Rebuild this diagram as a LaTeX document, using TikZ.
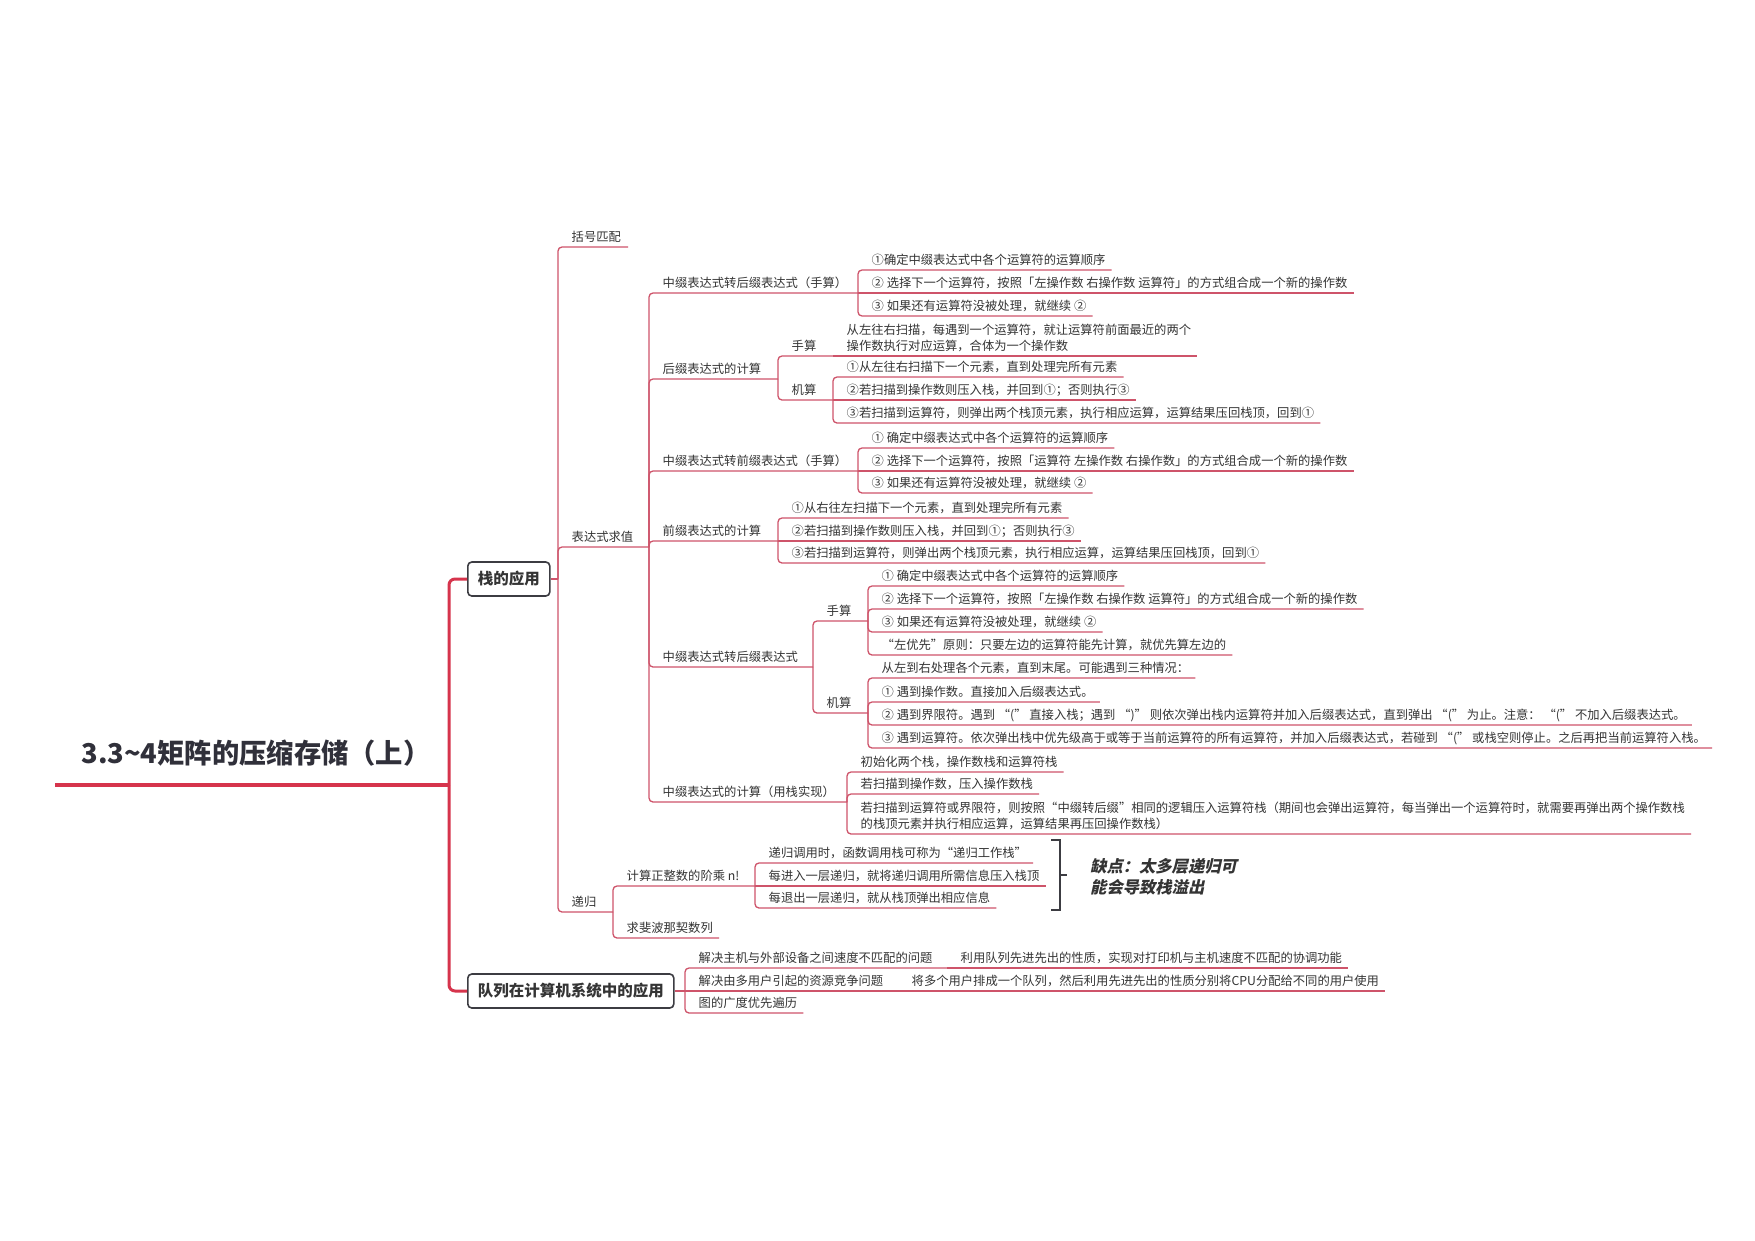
\documentclass[tikz,border=0pt]{standalone}
\usepackage{fontspec}
\setmainfont{Noto Sans CJK SC}
\newfontfamily\sumfont{Noto Sans CJK SC}[BoldFeatures={FakeSlant=0.22}]
\definecolor{mainred}{RGB}{214,52,76}
\definecolor{brc}{RGB}{206,84,106}
\definecolor{txt}{RGB}{52,52,52}
\definecolor{titc}{RGB}{48,48,58}
\definecolor{boxc}{RGB}{60,60,66}
\newcommand\myfs{\fontsize{12.3pt}{16pt}\selectfont}
\newcommand\myfsb{\fontsize{15.5pt}{18pt}\selectfont\bfseries}
\newcommand\myfst{\fontsize{27.3pt}{30pt}\selectfont\bfseries}
\newcommand\myfss{\fontsize{16.3pt}{21pt}\selectfont\sumfont\bfseries}
\begin{document}
\begin{tikzpicture}[x=1pt,y=-1pt,
  tp/.style={anchor=base west, inner sep=0pt, text=txt, font=\myfs},
  tpm/.style={anchor=south west, inner sep=0pt, text=txt, font=\myfs, align=left},
  ln/.style={draw=brc, line width=1.3pt, rounded corners=4pt},
  mainln/.style={draw=mainred, line width=3pt, rounded corners=6pt},
  box/.style={draw=boxc, line width=1.6pt, rounded corners=4pt, fill=white, inner xsep=10pt, inner ysep=0pt, minimum height=34pt, text=txt, font=\myfsb, anchor=west},
  brk/.style={draw=boxc, line width=2.4pt}
]
\useasboundingbox (0,0) rectangle (1755,1240);
\fill[white] (0,0) rectangle (1755,1240);

% ---- title and main branches
\node[font=\myfst, text=titc, inner sep=0pt] (T) at (256,753) {3.3{\char"7E}4矩阵的压缩存储（上）};
\coordinate (T-s) at (55,785);
\coordinate (T-j) at (449,785);
\node[box] (S) at (467,579) {栈的应用};
\node[box] (Q) at (467,991) {队列在计算机系统中的应用};
\draw[mainln, line width=4pt] (T-s) -- (T-j);
\draw[mainln] (T-j) |- (S.west);
\draw[mainln] (T-j) |- (Q.west);

% ---- 栈的应用
\coordinate (S-j) at (558,579);
\draw[ln] (S.east) -- (S-j);
\node[tp] (A1) at (571.5,241.5) {括号匹配};
\draw[ln] (S-j) |- (A1.east |- 0,247) -- ++(7,0);
\node[tp] (E) at (571.5,541.5) {表达式求值};
\coordinate (E-j) at (649,547);
\draw[ln] (S-j) |- (E-j);
\node[tp] (R) at (571.5,906.5) {递归};
\coordinate (R-j) at (613,912);
\draw[ln] (S-j) |- (R-j);

% ---- 表达式求值
\node[tp] (E1) at (662.5,287.5) {中缀表达式转后缀表达式（手算）};
\coordinate (E1-j) at (858,293);
\draw[ln] (E-j) |- (E1-j);
\node[tp] (E2) at (662.5,373.5) {后缀表达式的计算};
\coordinate (E2-j) at (778,379);
\draw[ln] (E-j) |- (E2-j);
\node[tp] (E3) at (662.5,465.5) {中缀表达式转前缀表达式（手算）};
\coordinate (E3-j) at (858,471);
\draw[ln] (E-j) |- (E3-j);
\node[tp] (E4) at (662.5,535.5) {前缀表达式的计算};
\coordinate (E4-j) at (778,541);
\draw[ln] (E-j) |- (E4-j);
\node[tp] (E5) at (662.5,661.5) {中缀表达式转后缀表达式};
\coordinate (E5-j) at (813,667);
\draw[ln] (E-j) |- (E5-j);
\node[tp] (E6) at (662.5,796.5) {中缀表达式的计算（用栈实现）};
\coordinate (E6-j) at (847,802);
\draw[ln] (E-j) |- (E6-j);

% E1
\node[tp] (E1a) at (871.5,264.5) {①确定中缀表达式中各个运算符的运算顺序};
\draw[ln] (E1-j) |- (E1a.east |- 0,270) -- ++(6,0);
\node[tp] (E1b) at (871.5,287.5) {② 选择下一个运算符，按照「左操作数 右操作数 运算符」的方式组合成一个新的操作数};
\draw[ln] (E1-j) -- (E1b.east |- 0,293) -- ++(6,0);
\node[tp] (E1c) at (871.5,310.5) {③ 如果还有运算符没被处理，就继续 ②};
\draw[ln] (E1-j) |- (E1c.east |- 0,316) -- ++(6,0);

% E2
\node[tp] (E2a) at (791.5,350.5) {手算};
\coordinate (E2a-j) at (833,356);
\draw[ln] (E2-j) |- (E2a-j);
\node[tp] (E2b) at (791.5,394.5) {机算};
\coordinate (E2b-j) at (833,400);
\draw[ln] (E2-j) |- (E2b-j);
\node[tpm] (E2a1) at (846.5,352) {从左往右扫描，每遇到一个运算符，就让运算符前面最近的两个\\操作数执行对应运算，合体为一个操作数};
\draw[ln] (E2a-j) -- (E2a1.east |- 0,356) -- ++(6,0);
\node[tp] (E2b1) at (846.5,371.5) {①从左往右扫描下一个元素，直到处理完所有元素};
\draw[ln] (E2b-j) |- (E2b1.east |- 0,377) -- ++(6,0);
\node[tp] (E2b2) at (846.5,394.5) {②若扫描到操作数则压入栈，并回到①；否则执行③};
\draw[ln] (E2b-j) -- (E2b2.east |- 0,400) -- ++(6,0);
\node[tp] (E2b3) at (846.5,417.5) {③若扫描到运算符，则弹出两个栈顶元素，执行相应运算，运算结果压回栈顶，回到①};
\draw[ln] (E2b-j) |- (E2b3.east |- 0,423) -- ++(6,0);

% E3
\node[tp] (E3a) at (871.5,442.5) {① 确定中缀表达式中各个运算符的运算顺序};
\draw[ln] (E3-j) |- (E3a.east |- 0,448) -- ++(6,0);
\node[tp] (E3b) at (871.5,465.5) {② 选择下一个运算符，按照「运算符 左操作数 右操作数」的方式组合成一个新的操作数};
\draw[ln] (E3-j) -- (E3b.east |- 0,471) -- ++(6,0);
\node[tp] (E3c) at (871.5,487.5) {③ 如果还有运算符没被处理，就继续 ②};
\draw[ln] (E3-j) |- (E3c.east |- 0,493) -- ++(6,0);

% E4
\node[tp] (E4a) at (791.5,512.5) {①从右往左扫描下一个元素，直到处理完所有元素};
\draw[ln] (E4-j) |- (E4a.east |- 0,518) -- ++(6,0);
\node[tp] (E4b) at (791.5,535.5) {②若扫描到操作数则压入栈，并回到①；否则执行③};
\draw[ln] (E4-j) -- (E4b.east |- 0,541) -- ++(6,0);
\node[tp] (E4c) at (791.5,557.5) {③若扫描到运算符，则弹出两个栈顶元素，执行相应运算，运算结果压回栈顶，回到①};
\draw[ln] (E4-j) |- (E4c.east |- 0,563) -- ++(6,0);

% E5
\node[tp] (E5a) at (826.5,615.5) {手算};
\coordinate (E5a-j) at (868,621);
\draw[ln] (E5-j) |- (E5a-j);
\node[tp] (E5b) at (826.5,707.5) {机算};
\coordinate (E5b-j) at (868,713);
\draw[ln] (E5-j) |- (E5b-j);
\node[tp] (E5a1) at (881.5,580.5) {① 确定中缀表达式中各个运算符的运算顺序};
\draw[ln] (E5a-j) |- (E5a1.east |- 0,586) -- ++(6,0);
\node[tp] (E5a2) at (881.5,603.5) {② 选择下一个运算符，按照「左操作数 右操作数 运算符」的方式组合成一个新的操作数};
\draw[ln] (E5a-j) |- (E5a2.east |- 0,609) -- ++(6,0);
\node[tp] (E5a3) at (881.5,626.5) {③ 如果还有运算符没被处理，就继续 ②};
\draw[ln] (E5a-j) |- (E5a3.east |- 0,632) -- ++(6,0);
\node[tp] (E5a4) at (881.5,649.5) {“左优先”原则：只要左边的运算符能先计算，就优先算左边的};
\draw[ln] (E5a-j) |- (E5a4.east |- 0,655) -- ++(6,0);
\node[tp] (E5b1) at (881.5,672.5) {从左到右处理各个元素，直到末尾。可能遇到三种情况：};
\draw[ln] (E5b-j) |- (E5b1.east |- 0,678) -- ++(6,0);
\node[tp] (E5b2) at (881.5,696.5) {① 遇到操作数。直接加入后缀表达式。};
\draw[ln] (E5b-j) |- (E5b2.east |- 0,702) -- ++(6,0);
\node[tp] (E5b3) at (881.5,719.5) {② 遇到界限符。遇到 “(” 直接入栈；遇到 “)” 则依次弹出栈内运算符并加入后缀表达式，直到弹出 “(” 为止。注意： “(” 不加入后缀表达式。};
\draw[ln] (E5b-j) |- (E5b3.east |- 0,725) -- ++(6,0);
\node[tp] (E5b4) at (881.5,742.5) {③ 遇到运算符。依次弹出栈中优先级高于或等于当前运算符的所有运算符，并加入后缀表达式，若碰到 “(” 或栈空则停止。之后再把当前运算符入栈。};
\draw[ln] (E5b-j) |- (E5b4.east |- 0,748) -- ++(6,0);

% E6
\node[tp] (E6a) at (860.5,766.5) {初始化两个栈，操作数栈和运算符栈};
\draw[ln] (E6-j) |- (E6a.east |- 0,772) -- ++(6,0);
\node[tp] (E6b) at (860.5,788.5) {若扫描到操作数，压入操作数栈};
\draw[ln] (E6-j) |- (E6b.east |- 0,794) -- ++(6,0);
\node[tpm] (E6c) at (860.5,830) {若扫描到运算符或界限符，则按照“中缀转后缀”相同的逻辑压入运算符栈（期间也会弹出运算符，每当弹出一个运算符时，就需要再弹出两个操作数栈\\的栈顶元素并执行相应运算，运算结果再压回操作数栈）};
\draw[ln] (E6-j) |- (E6c.east |- 0,834) -- ++(6,0);

% ---- 递归
\node[tp] (R1) at (626.5,880.5) {计算正整数的阶乘 n!};
\coordinate (R1-j) at (755,886);
\draw[ln] (R-j) |- (R1-j);
\node[tp] (R2) at (626.5,932.5) {求斐波那契数列};
\draw[ln] (R-j) |- (R2.east |- 0,938) -- ++(6,0);
\node[tp] (R1a) at (768.5,857.5) {递归调用时，函数调用栈可称为“递归工作栈”};
\draw[ln] (R1-j) |- (R1a.east |- 0,863) -- ++(6,0);
\node[tp] (R1b) at (768.5,880.5) {每进入一层递归，就将递归调用所需信息压入栈顶};
\draw[ln] (R1-j) -- (R1b.east |- 0,886) -- ++(6,0);
\node[tp] (R1c) at (768.5,902.5) {每退出一层递归，就从栈顶弹出相应信息};
\draw[ln] (R1-j) |- (R1c.east |- 0,908) -- ++(6,0);

% summary
\coordinate (B-t) at (1051,840);
\coordinate (B-b) at (1051,910);
\coordinate (B-m) at (1060,875);
\draw[brk] (B-t) -- (1060,840) -- (1060,910) -- (B-b);
\draw[brk] (B-m) -- ++(7,0);
\node[anchor=west, inner sep=0pt, align=left, font=\myfss, text=txt] (SUM) at (1090,876.5) {缺点：太多层递归可\\能会导致栈溢出};

% ---- 队列
\coordinate (Q-j) at (685,991);
\draw[ln] (Q.east) -- (Q-j);
\node[tp] (Q1) at (698.5,962.5) {解决主机与外部设备之间速度不匹配的问题};
\coordinate (Q1-j) at (947,968);
\draw[ln] (Q-j) |- (Q1-j);
\node[tp] (Q2) at (698.5,985.5) {解决由多用户引起的资源竞争问题};
\coordinate (Q2-j) at (898,991);
\draw[ln] (Q-j) -- (Q2-j);
\node[tp] (Q3) at (698.5,1007.5) {图的广度优先遍历};
\draw[ln] (Q-j) |- (Q3.east |- 0,1013) -- ++(6,0);
\node[tp] (Q1a) at (960.5,962.5) {利用队列先进先出的性质，实现对打印机与主机速度不匹配的协调功能};
\draw[ln] (Q1-j) -- (Q1a.east |- 0,968) -- ++(6,0);
\node[tp] (Q2a) at (911.5,985.5) {将多个用户排成一个队列，然后利用先进先出的性质分别将CPU分配给不同的用户使用};
\draw[ln] (Q2-j) -- (Q2a.east |- 0,991) -- ++(6,0);
\end{tikzpicture}
\end{document}
